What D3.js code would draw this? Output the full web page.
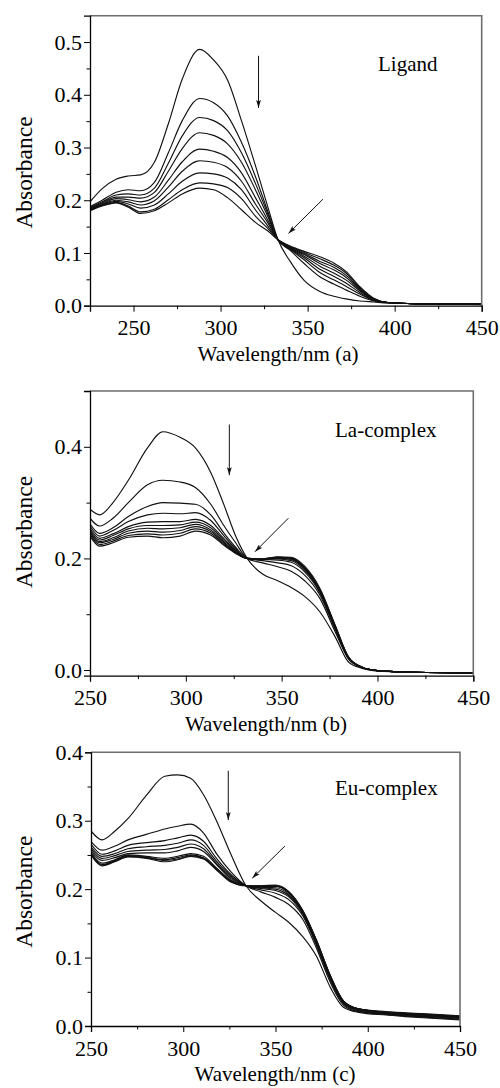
<!DOCTYPE html>
<html>
<head>
<meta charset="utf-8">
<script src="https://cdn.jsdelivr.net/npm/d3@7"></script>
<style>
  html, body { margin: 0; padding: 0; background: #fff; }
  svg { display: block; }
</style>
</head>
<body>
<script>
// UV-vis titration spectra: ligand, La-complex, Eu-complex

// ---- panel (a): ligand ----
const ligandWavelengths = [225, 232, 240, 247, 254, 262, 270, 278, 288, 296, 304, 312, 320, 327, 333, 340, 348, 357, 365, 372, 380, 388, 396, 410, 430, 450];
const ligandSpectra = [
  [0.197, 0.222, 0.240, 0.246, 0.248, 0.272, 0.345, 0.430, 0.486, 0.466, 0.428, 0.351, 0.266, 0.189, 0.125, 0.084, 0.048, 0.027, 0.018, 0.013, 0.009, 0.007, 0.005, 0.004, 0.003, 0.002],
  [0.188, 0.200, 0.215, 0.220, 0.218, 0.234, 0.290, 0.351, 0.393, 0.385, 0.360, 0.310, 0.245, 0.180, 0.125, 0.105, 0.080, 0.055, 0.041, 0.030, 0.018, 0.009, 0.006, 0.004, 0.003, 0.003],
  [0.186, 0.197, 0.210, 0.212, 0.210, 0.223, 0.270, 0.322, 0.357, 0.351, 0.332, 0.290, 0.232, 0.175, 0.125, 0.107, 0.087, 0.063, 0.049, 0.037, 0.022, 0.010, 0.006, 0.004, 0.003, 0.003],
  [0.185, 0.195, 0.206, 0.206, 0.204, 0.215, 0.255, 0.298, 0.328, 0.323, 0.307, 0.272, 0.220, 0.170, 0.125, 0.108, 0.091, 0.069, 0.056, 0.043, 0.025, 0.010, 0.006, 0.004, 0.003, 0.003],
  [0.184, 0.193, 0.203, 0.201, 0.197, 0.206, 0.238, 0.273, 0.297, 0.293, 0.281, 0.252, 0.205, 0.163, 0.125, 0.109, 0.094, 0.075, 0.062, 0.049, 0.028, 0.011, 0.006, 0.004, 0.003, 0.003],
  [0.183, 0.192, 0.200, 0.197, 0.191, 0.199, 0.225, 0.255, 0.275, 0.272, 0.262, 0.236, 0.193, 0.158, 0.125, 0.110, 0.097, 0.080, 0.068, 0.054, 0.030, 0.011, 0.006, 0.004, 0.003, 0.003],
  [0.182, 0.191, 0.198, 0.193, 0.185, 0.191, 0.212, 0.236, 0.252, 0.250, 0.242, 0.220, 0.182, 0.152, 0.125, 0.111, 0.099, 0.084, 0.073, 0.058, 0.032, 0.012, 0.006, 0.004, 0.003, 0.003],
  [0.181, 0.190, 0.196, 0.189, 0.178, 0.183, 0.201, 0.220, 0.233, 0.231, 0.224, 0.203, 0.170, 0.147, 0.125, 0.112, 0.101, 0.089, 0.077, 0.062, 0.034, 0.013, 0.006, 0.004, 0.003, 0.003],
  [0.180, 0.189, 0.195, 0.187, 0.175, 0.180, 0.195, 0.212, 0.223, 0.220, 0.205, 0.182, 0.158, 0.142, 0.125, 0.113, 0.103, 0.093, 0.081, 0.065, 0.036, 0.014, 0.006, 0.004, 0.003, 0.003]
];
const ligandArrows = [[321.8, 0.474, 321.8, 0.375], [358.8, 0.202, 339.0, 0.137]];

// ---- panel (b): La-complex ----
const laWavelengths = [250, 255, 262, 270, 280, 288, 297, 305, 313, 320, 326, 332, 340, 348, 355, 362, 370, 378, 385, 392, 400, 420, 450];
const laSpectra = [
  [0.288, 0.278, 0.300, 0.340, 0.398, 0.427, 0.417, 0.398, 0.354, 0.295, 0.240, 0.200, 0.172, 0.160, 0.148, 0.132, 0.104, 0.059, 0.014, 0.003, -0.002, -0.004, -0.005],
  [0.272, 0.258, 0.272, 0.300, 0.332, 0.340, 0.337, 0.327, 0.297, 0.258, 0.228, 0.200, 0.192, 0.185, 0.177, 0.160, 0.128, 0.068, 0.019, 0.004, -0.001, -0.004, -0.005],
  [0.262, 0.245, 0.255, 0.275, 0.293, 0.300, 0.299, 0.297, 0.278, 0.245, 0.220, 0.200, 0.196, 0.192, 0.187, 0.170, 0.134, 0.072, 0.020, 0.005, -0.001, -0.004, -0.005],
  [0.258, 0.240, 0.250, 0.266, 0.278, 0.281, 0.280, 0.282, 0.268, 0.240, 0.217, 0.200, 0.198, 0.197, 0.193, 0.176, 0.138, 0.074, 0.021, 0.005, -0.001, -0.004, -0.005],
  [0.254, 0.236, 0.244, 0.257, 0.265, 0.266, 0.266, 0.270, 0.259, 0.235, 0.215, 0.200, 0.198, 0.199, 0.196, 0.179, 0.140, 0.075, 0.021, 0.005, -0.001, -0.004, -0.005],
  [0.251, 0.233, 0.241, 0.253, 0.259, 0.259, 0.260, 0.265, 0.255, 0.232, 0.213, 0.200, 0.199, 0.200, 0.198, 0.181, 0.141, 0.076, 0.022, 0.005, -0.001, -0.004, -0.005],
  [0.248, 0.230, 0.237, 0.249, 0.254, 0.253, 0.255, 0.261, 0.251, 0.229, 0.212, 0.200, 0.199, 0.201, 0.199, 0.182, 0.142, 0.077, 0.022, 0.005, -0.001, -0.004, -0.005],
  [0.246, 0.228, 0.234, 0.245, 0.249, 0.247, 0.250, 0.257, 0.248, 0.227, 0.211, 0.200, 0.199, 0.202, 0.200, 0.183, 0.143, 0.078, 0.022, 0.005, -0.001, -0.004, -0.005],
  [0.243, 0.225, 0.231, 0.241, 0.244, 0.242, 0.245, 0.253, 0.245, 0.225, 0.210, 0.200, 0.199, 0.202, 0.201, 0.184, 0.144, 0.079, 0.022, 0.005, -0.001, -0.004, -0.005],
  [0.240, 0.222, 0.228, 0.238, 0.240, 0.237, 0.240, 0.249, 0.242, 0.223, 0.209, 0.200, 0.199, 0.203, 0.202, 0.186, 0.146, 0.080, 0.023, 0.005, -0.001, -0.004, -0.005]
];
const laArrows = [[322.7, 0.440, 322.7, 0.349], [353.5, 0.272, 336.1, 0.212]];

// ---- panel (c): Eu-complex ----
const euWavelengths = [250, 256, 263, 270, 280, 290, 297, 304, 311, 318, 326, 334, 342, 350, 357, 365, 372, 380, 387, 395, 410, 430, 450];
const euSpectra = [
  [0.285, 0.272, 0.285, 0.303, 0.337, 0.365, 0.367, 0.362, 0.338, 0.300, 0.250, 0.205, 0.183, 0.166, 0.152, 0.130, 0.103, 0.055, 0.027, 0.020, 0.016, 0.012, 0.009],
  [0.270, 0.257, 0.263, 0.272, 0.280, 0.288, 0.292, 0.295, 0.282, 0.252, 0.225, 0.205, 0.196, 0.188, 0.178, 0.155, 0.115, 0.062, 0.030, 0.021, 0.017, 0.013, 0.010],
  [0.266, 0.251, 0.256, 0.264, 0.268, 0.271, 0.275, 0.279, 0.270, 0.245, 0.221, 0.205, 0.199, 0.194, 0.185, 0.160, 0.119, 0.065, 0.032, 0.022, 0.017, 0.014, 0.011],
  [0.262, 0.248, 0.252, 0.259, 0.262, 0.264, 0.267, 0.272, 0.264, 0.241, 0.219, 0.205, 0.201, 0.198, 0.189, 0.162, 0.121, 0.067, 0.033, 0.023, 0.018, 0.015, 0.012],
  [0.259, 0.245, 0.249, 0.255, 0.257, 0.258, 0.261, 0.266, 0.259, 0.238, 0.217, 0.205, 0.202, 0.200, 0.191, 0.164, 0.123, 0.068, 0.034, 0.024, 0.019, 0.015, 0.012],
  [0.256, 0.242, 0.246, 0.252, 0.253, 0.253, 0.256, 0.261, 0.255, 0.236, 0.215, 0.205, 0.203, 0.202, 0.193, 0.165, 0.124, 0.069, 0.035, 0.024, 0.019, 0.016, 0.013],
  [0.254, 0.238, 0.243, 0.250, 0.248, 0.245, 0.248, 0.252, 0.248, 0.231, 0.213, 0.205, 0.204, 0.204, 0.195, 0.166, 0.125, 0.070, 0.035, 0.025, 0.020, 0.016, 0.013],
  [0.252, 0.236, 0.242, 0.249, 0.247, 0.243, 0.246, 0.250, 0.246, 0.230, 0.212, 0.205, 0.204, 0.205, 0.196, 0.167, 0.126, 0.071, 0.036, 0.025, 0.020, 0.017, 0.014],
  [0.251, 0.235, 0.241, 0.248, 0.246, 0.242, 0.244, 0.249, 0.245, 0.229, 0.211, 0.205, 0.205, 0.205, 0.196, 0.167, 0.126, 0.072, 0.036, 0.025, 0.020, 0.017, 0.014],
  [0.250, 0.234, 0.240, 0.247, 0.245, 0.240, 0.243, 0.248, 0.244, 0.228, 0.210, 0.205, 0.205, 0.206, 0.197, 0.168, 0.127, 0.072, 0.036, 0.025, 0.021, 0.018, 0.015]
];
const euArrows = [[324.4, 0.373, 324.4, 0.301], [355.1, 0.263, 337.4, 0.216]];

const xMajorTicks = [250, 300, 350, 400, 450];

const panels = [
  {
    name: "Ligand", xTitle: "Wavelength/nm (a)",
    wavelengths: ligandWavelengths, spectra: ligandSpectra, arrows: ligandArrows,
    xDomain: [225, 450], yDomain: [0, 0.55],
    xMinor: [225, 275, 325, 375, 425],
    yMajor: [0, 0.1, 0.2, 0.3, 0.4, 0.5], yMinor: [0.05, 0.15, 0.25, 0.35, 0.45],
    left: 90, right: 481.7, top: 15.7, bottom: 305.7,
    labelX: 378, labelY: 71, xTitleX: 278, xTitleY: 361, yTitleY: 172.5
  },
  {
    name: "La-complex", xTitle: "Wavelength/nm (b)",
    wavelengths: laWavelengths, spectra: laSpectra, arrows: laArrows,
    xDomain: [250, 450], yDomain: [-0.01, 0.5],
    xMinor: [275, 325, 375, 425],
    yMajor: [0, 0.2, 0.4], yMinor: [0.1, 0.3],
    left: 90, right: 473.3, top: 391, bottom: 675.6,
    labelX: 335, labelY: 436.7, xTitleX: 266, xTitleY: 731, yTitleY: 532
  },
  {
    name: "Eu-complex", xTitle: "Wavelength/nm (c)",
    wavelengths: euWavelengths, spectra: euSpectra, arrows: euArrows,
    xDomain: [250, 450], yDomain: [0, 0.4],
    xMinor: [275, 325, 375, 425],
    yMajor: [0, 0.1, 0.2, 0.3, 0.4], yMinor: [0.05, 0.15, 0.25, 0.35],
    left: 91, right: 460, top: 752.3, bottom: 1026,
    labelX: 335, labelY: 795, xTitleX: 275, xTitleY: 1081, yTitleY: 891.7
  }
];

const font = "'Liberation Serif', 'Times New Roman', serif";

const svg = d3.select("body").append("svg")
  .attr("width", 500)
  .attr("height", 1088)
  .style("font-family", font);

const defs = svg.append("defs");
defs.append("marker")
  .attr("id", "arrowhead")
  .attr("markerUnits", "userSpaceOnUse")
  .attr("viewBox", "0 0 10 6")
  .attr("refX", 10)
  .attr("refY", 3)
  .attr("markerWidth", 8)
  .attr("markerHeight", 5)
  .attr("orient", "auto")
  .append("path")
  .attr("d", "M0,0 L10,3 L0,6 L2,3 Z")
  .attr("fill", "#111");

panels.forEach((p, k) => {
  const x = d3.scaleLinear().domain(p.xDomain).range([p.left, p.right]);
  const y = d3.scaleLinear().domain(p.yDomain).range([p.bottom, p.top]);
  const g = svg.append("g");

  defs.append("clipPath").attr("id", "clip" + k)
    .append("rect")
    .attr("x", p.left).attr("y", p.top)
    .attr("width", p.right - p.left).attr("height", p.bottom - p.top);

  const line = d3.line()
    .x((d, i) => x(p.wavelengths[i]))
    .y((d) => y(d))
    .curve(d3.curveMonotoneX);

  g.append("g")
    .attr("clip-path", `url(#clip${k})`)
    .selectAll("path")
    .data(p.spectra)
    .join("path")
    .attr("d", line)
    .attr("fill", "none")
    .attr("stroke", "#111")
    .attr("stroke-width", 1.15);

  // frame: grey top/right
  g.append("path")
    .attr("d", `M${p.left},${p.top}H${p.right}V${p.bottom}`)
    .attr("fill", "none")
    .attr("stroke", "#6e6e6e")
    .attr("stroke-width", 1.6);

  // x axis
  const xAxis = g.append("g").attr("transform", `translate(0,${p.bottom})`);
  xAxis.call(d3.axisBottom(x).tickValues(xMajorTicks).tickSize(6).tickPadding(8).tickFormat(d3.format("d")));
  xAxis.append("g").call(d3.axisBottom(x).tickValues(p.xMinor).tickSize(3.5).tickFormat(""))
    .select(".domain").remove();

  // y axis
  const yAxis = g.append("g").attr("transform", `translate(${p.left},0)`);
  yAxis.call(d3.axisLeft(y).tickValues(p.yMajor).tickSize(6).tickPadding(2).tickFormat(d3.format(".1f")));
  yAxis.append("g").call(d3.axisLeft(y).tickValues(p.yMinor).tickSize(3.5).tickFormat(""))
    .select(".domain").remove();

  g.selectAll(".domain").attr("stroke", "#000").attr("stroke-width", 1.3);
  g.selectAll(".tick line").attr("stroke", "#000").attr("stroke-width", 1);
  g.selectAll(".tick text")
    .attr("fill", "#000")
    .style("font-family", font)
    .style("font-size", "22px");

  // arrows
  g.selectAll("line.arrow")
    .data(p.arrows)
    .join("line")
    .attr("class", "arrow")
    .attr("x1", (d) => x(d[0]))
    .attr("y1", (d) => y(d[1]))
    .attr("x2", (d) => x(d[2]))
    .attr("y2", (d) => y(d[3]))
    .attr("stroke", "#111")
    .attr("stroke-width", 1)
    .attr("marker-end", "url(#arrowhead)");

  // panel label
  g.append("text")
    .attr("x", p.labelX)
    .attr("y", p.labelY)
    .style("font-size", "21px")
    .attr("fill", "#000")
    .text(p.name);

  // axis titles
  g.append("text")
    .attr("x", p.xTitleX)
    .attr("y", p.xTitleY)
    .attr("text-anchor", "middle")
    .style("font-size", "21px")
    .attr("fill", "#000")
    .text(p.xTitle);

  g.append("text")
    .attr("transform", `translate(32,${p.yTitleY}) rotate(-90)`)
    .attr("text-anchor", "middle")
    .style("font-size", "23.5px")
    .attr("fill", "#000")
    .text("Absorbance");
});
</script>
</body>
</html>
